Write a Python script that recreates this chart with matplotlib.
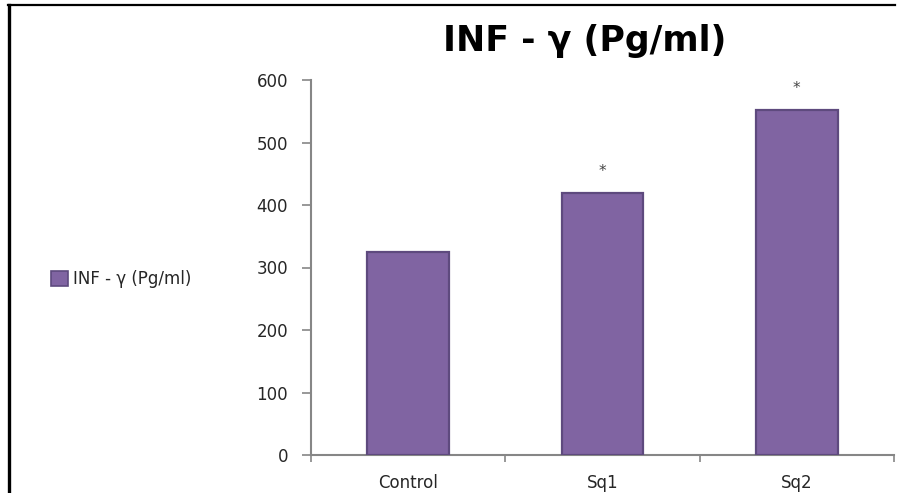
import matplotlib
matplotlib.use("Agg")
import matplotlib.pyplot as plt
from matplotlib.lines import Line2D
from matplotlib.patches import Patch
import numpy as np

# data
categories = ["Control", "Sq1", "Sq2"]
values = [325, 419, 552]
marks = ["", "*", "*"]
yticks = [0, 100, 200, 300, 400, 500, 600]
series_name = "INF - \u03b3 (Pg/ml)"

bar_color = "#8064A2"
edge_color = "#5E4A7E"
axis_color = "#868686"
text_color = "#262626"

W, H = 897, 493
fig = plt.figure(figsize=(W / 100, H / 100), dpi=100)
ax = fig.add_axes([311 / W, 1 - 455 / H, (894 - 311) / W, 375 / H])

x = np.arange(len(categories))
ax.bar(x, values, width=0.42, color=bar_color, edgecolor=edge_color, linewidth=1.6, zorder=3)

for xi, v, m in zip(x, values, marks):
    if m:
        ax.text(xi, v + 35, m, ha="center", va="center", fontsize=11, color="#444444")

ax.set_xlim(-0.5, len(categories) - 0.5)
ax.set_ylim(0, 600)
ax.set_yticks(yticks)
ax.set_yticklabels([str(t) for t in yticks])
ax.set_xticks(x)
ax.set_xticklabels(categories)
ax.set_xticks(np.arange(-0.5, len(categories), 1.0), minor=True)

for s in ["top", "right"]:
    ax.spines[s].set_visible(False)
for s in ["left", "bottom"]:
    ax.spines[s].set_color(axis_color)
    ax.spines[s].set_linewidth(1.5)

ax.tick_params(axis="y", direction="out", length=6.5, width=1.2, color=axis_color,
               pad=10, labelsize=12, labelcolor=text_color)
ax.tick_params(axis="x", which="major", length=0, pad=14, labelsize=12, labelcolor=text_color)
ax.tick_params(axis="x", which="minor", direction="out", length=5, width=1.2, color=axis_color)

fig.text(585 / W, 1 - 41 / H, series_name, ha="center", va="center",
         fontsize=25, fontweight="bold", color="black")

handle = Patch(facecolor=bar_color, edgecolor=edge_color, linewidth=1.2)
fig.legend([handle], [series_name], loc="center left",
           bbox_to_anchor=(43 / W, 1 - 279 / H), frameon=False, fontsize=12,
           handlelength=1.0, handleheight=1.0, handletextpad=0.3, borderpad=0,
           labelcolor=text_color)

# page border around the chart
fig.add_artist(Line2D([8 / W, 895 / W], [1 - 5 / H, 1 - 5 / H], color="black", linewidth=1.6))
fig.add_artist(Line2D([8.5 / W, 8.5 / W], [0, 1 - 5 / H], color="black", linewidth=2.4))

fig.savefig("out.png", dpi=100)
